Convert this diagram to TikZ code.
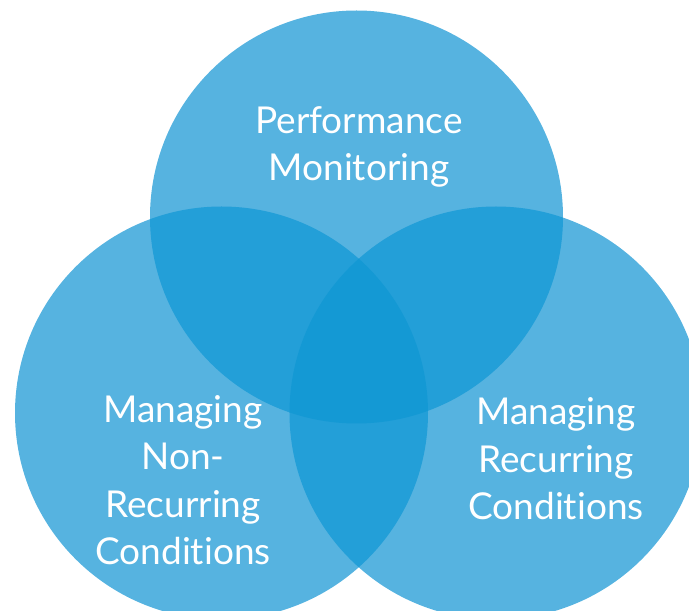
\documentclass[tikz,border=0pt]{standalone}
\usepackage{fontspec}
\setmainfont{Lato}[Ligatures={NoCommon,NoRequired,NoContextual}]
\begin{document}
\begin{tikzpicture}[x=1pt,y=1pt,
  lbl/.style={text=white, align=center, font=\fontsize{37}{47.5}\selectfont, inner sep=0pt}]
\definecolor{cbase}{RGB}{86,179,224}
\definecolor{cdouble}{RGB}{35,159,216}
\definecolor{ctriple}{RGB}{20,153,212}
\useasboundingbox (0,0) rectangle (689,611);
\clip (0,0) rectangle (689,611);
\coordinate (T) at (356.5,394);
\coordinate (L) at (221.5,198);
\coordinate (R) at (496,198);
\def\rr{206.5}
\fill[cbase] (T) circle (\rr);
\fill[cbase] (L) circle (\rr);
\fill[cbase] (R) circle (\rr);
\begin{scope}
  \clip (T) circle (\rr);
  \fill[cdouble] (L) circle (\rr);
  \fill[cdouble] (R) circle (\rr);
\end{scope}
\begin{scope}
  \clip (L) circle (\rr);
  \fill[cdouble] (R) circle (\rr);
\end{scope}
\begin{scope}
  \clip (T) circle (\rr);
  \clip (L) circle (\rr);
  \fill[ctriple] (R) circle (\rr);
\end{scope}
\node[lbl] (pm) at (359,464) {Performance\\Monitoring};
\node[lbl] (nr) at (183,131) {Managing\\Non-\\Recurring\\Conditions};
\node[lbl] (rc) at (556,152) {Managing\\Recurring\\Conditions};
\end{tikzpicture}
\end{document}
